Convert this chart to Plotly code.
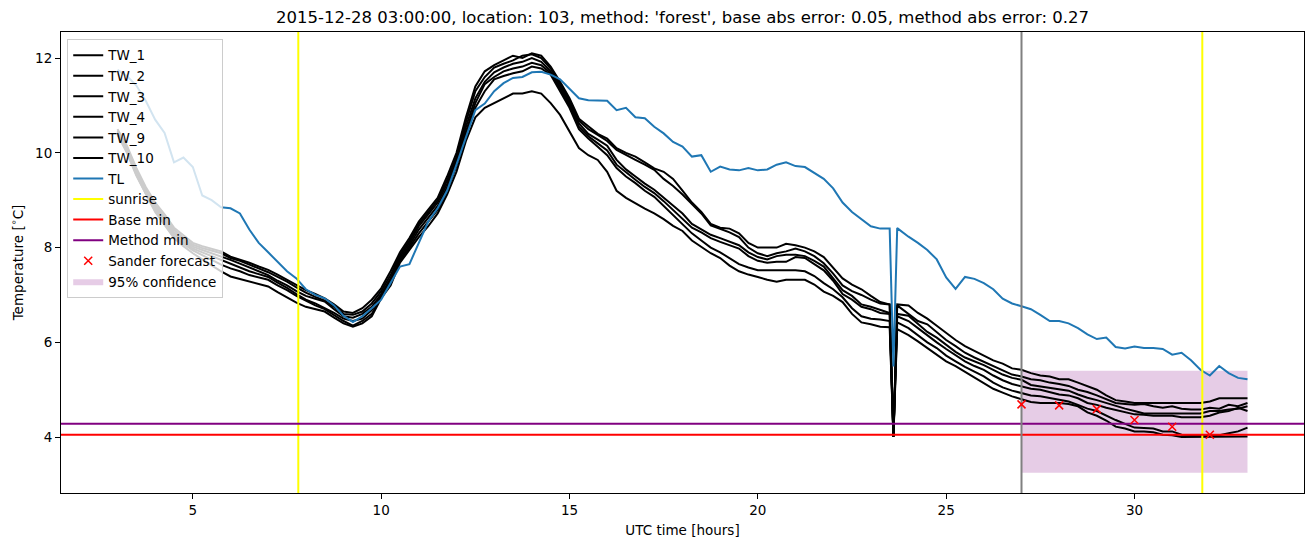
import plotly.graph_objects as go

# ---------------- data ----------------
hours = [3.0, 3.25, 3.5, 3.75, 4.0, 4.25, 4.5, 4.75, 5.0, 5.25, 5.5, 5.75,
         6.0, 6.25, 6.5, 6.75, 7.0, 7.25, 7.5, 7.75, 8.0, 8.25, 8.5, 8.75,
         9.0, 9.25, 9.5, 9.75, 10.0, 10.25, 10.5, 10.75, 11.0, 11.25, 11.5, 11.75,
         12.0, 12.25, 12.5, 12.75, 13.0, 13.25, 13.5, 13.75, 14.0, 14.25, 14.5, 14.75,
         15.0, 15.25, 15.5, 15.75, 16.0, 16.25, 16.5, 16.75, 17.0, 17.25, 17.5, 17.75,
         18.0, 18.25, 18.5, 18.75, 19.0, 19.25, 19.5, 19.75, 20.0, 20.25, 20.5, 20.75,
         21.0, 21.25, 21.5, 21.75, 22.0, 22.25, 22.5, 22.75, 23.0, 23.25, 23.5,
         23.6, 23.7,
         24.0, 24.25, 24.5, 24.75, 25.0, 25.25, 25.5, 25.75, 26.0, 26.25, 26.5, 26.75,
         27.0, 27.25, 27.5, 27.75, 28.0, 28.25, 28.5, 28.75, 29.0, 29.25, 29.5, 29.75,
         30.0, 30.25, 30.5, 30.75, 31.0, 31.25, 31.5, 31.75, 32.0, 32.25, 32.5, 32.75,
         33.0]

tw_1 = [10.5, 10.15, 9.68, 9.28, 8.95, 8.7, 8.42, 8.25, 8.1, 8.03, 7.97, 7.92,
        7.81, 7.75, 7.68, 7.6, 7.53, 7.43, 7.32, 7.2, 7.1, 7.02, 6.93, 6.8,
        6.65, 6.62, 6.72, 6.9, 7.14, 7.5, 7.9, 8.2, 8.55, 8.8, 9.05, 9.5,
        10.0, 10.75, 11.4, 11.72, 11.85, 11.95, 12.05, 12.0, 12.1, 12.05, 11.82, 11.5,
        11.15, 10.72, 10.55, 10.4, 10.3, 10.1, 10.0, 9.92, 9.8, 9.67, 9.6, 9.45,
        9.2, 8.95, 8.75, 8.5, 8.42, 8.4, 8.3, 8.1, 8.0, 8.0, 8.0, 8.08,
        8.05, 8.0, 7.92, 7.8, 7.58, 7.35, 7.22, 7.12, 6.98, 6.85, 6.8,
        4.0, 6.8,
        6.78, 6.62, 6.5, 6.35, 6.2, 6.05, 5.92, 5.82, 5.73, 5.62, 5.55, 5.45,
        5.42, 5.35, 5.3, 5.28, 5.22, 5.22, 5.15, 5.07, 5.0, 4.88, 4.78, 4.75,
        4.72, 4.72, 4.72, 4.72, 4.72, 4.72, 4.72, 4.72, 4.75, 4.82, 4.82, 4.82,
        4.82]

tw_2 = [10.47, 10.12, 9.64, 9.24, 8.9, 8.65, 8.38, 8.2, 8.06, 7.99, 7.93, 7.88,
        7.78, 7.72, 7.64, 7.56, 7.48, 7.38, 7.28, 7.16, 7.05, 6.96, 6.88, 6.75,
        6.6, 6.58, 6.65, 6.82, 7.08, 7.42, 7.85, 8.15, 8.5, 8.75, 9.0, 9.42,
        9.92, 10.65, 11.3, 11.6, 11.8, 11.88, 11.95, 12.05, 12.08, 12.0, 11.78, 11.45,
        11.1, 10.68, 10.5, 10.38, 10.25, 10.06, 9.95, 9.85, 9.75, 9.64, 9.45, 9.3,
        9.12, 8.92, 8.72, 8.47, 8.4, 8.32, 8.22, 8.0, 7.88, 7.82, 7.88, 7.92,
        7.98, 7.92, 7.82, 7.67, 7.45, 7.2, 7.08, 7.0, 6.9, 6.82, 6.8,
        4.02, 6.78,
        6.6, 6.45, 6.38, 6.22, 6.05, 5.92, 5.78, 5.68, 5.59, 5.5, 5.4, 5.32,
        5.28, 5.22, 5.2, 5.15, 5.12, 5.08, 5.0, 4.95, 4.88, 4.8, 4.72, 4.7,
        4.68, 4.7, 4.65, 4.62, 4.65, 4.6, 4.58, 4.58, 4.62, 4.6, 4.68, 4.65,
        4.72]

tw_3 = [10.45, 10.08, 9.6, 9.2, 8.86, 8.6, 8.33, 8.16, 8.02, 7.95, 7.88, 7.82,
        7.74, 7.66, 7.58, 7.5, 7.42, 7.3, 7.2, 7.08, 6.98, 6.92, 6.86, 6.7,
        6.55, 6.52, 6.6, 6.75, 7.02, 7.35, 7.8, 8.1, 8.45, 8.7, 8.95, 9.35,
        9.85, 10.55, 11.15, 11.5, 11.7, 11.8, 11.88, 11.92, 12.0, 11.92, 11.72, 11.4,
        11.05, 10.62, 10.4, 10.28, 10.15, 9.85, 9.65, 9.5, 9.35, 9.22, 9.05, 8.88,
        8.72, 8.5, 8.38, 8.27, 8.2, 8.12, 8.05, 7.9, 7.8, 7.75, 7.82, 7.85,
        7.85, 7.82, 7.72, 7.6, 7.35, 7.1, 6.98, 6.8, 6.75, 6.68, 6.62,
        4.0, 6.6,
        6.56, 6.4, 6.22, 6.1, 5.95, 5.8, 5.68, 5.6, 5.52, 5.42, 5.32, 5.25,
        5.21, 5.1, 5.07, 5.05, 5.02, 4.98, 4.9, 4.83, 4.78, 4.72, 4.65, 4.6,
        4.55, 4.5, 4.5, 4.5, 4.5, 4.5, 4.5, 4.5, 4.55, 4.55, 4.58, 4.6,
        4.65]

tw_4 = [10.42, 10.05, 9.57, 9.17, 8.82, 8.56, 8.29, 8.12, 7.98, 7.9, 7.82, 7.74,
        7.65, 7.58, 7.5, 7.44, 7.38, 7.26, 7.15, 7.02, 6.9, 6.82, 6.72, 6.62,
        6.5, 6.45, 6.5, 6.68, 6.98, 7.3, 7.75, 8.05, 8.38, 8.62, 8.88, 9.28,
        9.78, 10.45, 11.05, 11.45, 11.6, 11.72, 11.78, 11.82, 11.9, 11.85, 11.68, 11.35,
        11.0, 10.55, 10.35, 10.2, 10.05, 9.75, 9.58, 9.43, 9.28, 9.15, 8.98, 8.8,
        8.62, 8.42, 8.32, 8.2, 8.12, 8.05, 7.98, 7.82, 7.72, 7.68, 7.7, 7.7,
        7.8, 7.78, 7.65, 7.52, 7.3, 7.02, 6.9, 6.75, 6.7, 6.62, 6.6,
        4.03, 6.55,
        6.45, 6.3, 6.14, 6.0, 5.86, 5.73, 5.6, 5.5, 5.42, 5.3, 5.2, 5.12,
        5.07, 5.02, 5.0, 4.95, 4.9, 4.88, 4.82, 4.72, 4.68, 4.62, 4.57, 4.52,
        4.48, 4.47, 4.45, 4.45, 4.45, 4.42, 4.42, 4.42, 4.45, 4.52, 4.55, 4.62,
        4.55]

tw_9 = [10.4, 10.02, 9.54, 9.14, 8.78, 8.52, 8.24, 8.08, 7.94, 7.84, 7.74, 7.64,
        7.56, 7.5, 7.42, 7.37, 7.32, 7.2, 7.1, 6.98, 6.88, 6.78, 6.7, 6.58,
        6.45, 6.35, 6.45, 6.6, 6.95, 7.25, 7.72, 8.0, 8.3, 8.55, 8.8, 9.2,
        9.72, 10.38, 10.95, 11.3, 11.55, 11.62, 11.68, 11.72, 11.82, 11.78, 11.65, 11.3,
        10.95, 10.5, 10.3, 10.13, 9.95, 9.68, 9.5, 9.36, 9.2, 9.07, 8.88, 8.68,
        8.5, 8.3, 8.15, 8.0, 7.9, 7.78, 7.65, 7.58, 7.52, 7.52, 7.52, 7.52,
        7.52, 7.5, 7.4, 7.25, 7.12, 6.95, 6.72, 6.55, 6.5, 6.48, 6.45,
        4.01, 6.42,
        6.3, 6.15, 6.0, 5.88, 5.72, 5.6, 5.48, 5.38, 5.28, 5.15, 5.05, 4.98,
        4.93, 4.88, 4.86, 4.82, 4.78, 4.75, 4.68, 4.6, 4.55, 4.45, 4.36, 4.28,
        4.2, 4.19, 4.18, 4.12, 4.12, 4.05, 4.04, 4.04, 4.04, 4.04, 4.08, 4.12,
        4.2]

tw_10 = [10.38, 10.0, 9.52, 9.12, 8.75, 8.48, 8.2, 8.03, 7.88, 7.75, 7.62, 7.5,
         7.39, 7.34, 7.28, 7.23, 7.18, 7.06, 6.95, 6.84, 6.75, 6.7, 6.65, 6.52,
         6.4, 6.33, 6.4, 6.55, 6.93, 7.2, 7.68, 7.95, 8.22, 8.45, 8.72, 9.12,
         9.6, 10.25, 10.75, 10.95, 11.05, 11.15, 11.25, 11.25, 11.3, 11.25, 11.05, 10.8,
         10.45, 10.1, 9.95, 9.85, 9.6, 9.2, 9.05, 8.93, 8.82, 8.72, 8.6, 8.46,
         8.35, 8.15, 8.02, 7.88, 7.78, 7.62, 7.5, 7.43, 7.38, 7.32, 7.28, 7.32,
         7.32, 7.32, 7.22, 7.07, 6.98, 6.85, 6.6, 6.42, 6.38, 6.33, 6.32,
         4.0, 6.28,
         6.15, 6.02, 5.88, 5.75, 5.6, 5.5, 5.38, 5.25, 5.14, 5.02, 4.94, 4.86,
         4.8, 4.74, 4.72, 4.72, 4.72, 4.7, 4.65, 4.52, 4.45, 4.35, 4.22, 4.18,
         4.12, 4.12, 4.1, 4.05, 4.04, 4.0, 4.0, 4.0, 4.0, 4.0, 4.0, 4.0,
         4.01]

tl = [11.75, 11.62, 11.42, 11.1, 10.7, 10.42, 9.8, 9.9, 9.7, 9.1, 9.0, 8.85,
      8.83, 8.72, 8.38, 8.1, 7.9, 7.7, 7.5, 7.35, 7.12, 7.0, 6.93, 6.78,
      6.56, 6.43, 6.55, 6.72, 6.9, 7.25, 7.6, 7.65, 8.1, 8.55, 8.83, 9.2,
      9.75, 10.35, 10.9, 11.04, 11.3, 11.47, 11.58, 11.6, 11.7, 11.71, 11.65, 11.55,
      11.35, 11.15, 11.11, 11.11, 11.1, 10.9, 10.95, 10.75, 10.73, 10.55, 10.41, 10.23,
      10.13, 9.92, 9.95, 9.6, 9.71, 9.65, 9.63, 9.68, 9.63, 9.65, 9.75, 9.8,
      9.72, 9.7, 9.57, 9.45, 9.25, 8.95, 8.75, 8.6, 8.45, 8.4, 8.4,
      5.49, 8.41,
      8.23, 8.1, 7.95, 7.75, 7.37, 7.13, 7.38, 7.34, 7.25, 7.12, 6.92, 6.82,
      6.76, 6.7, 6.58, 6.45, 6.45, 6.4, 6.3, 6.17, 6.07, 6.1, 5.9, 5.87,
      5.91, 5.88, 5.88, 5.86, 5.74, 5.78, 5.62, 5.42, 5.3, 5.5, 5.35, 5.25,
      5.22]

tw_names = ["TW_1", "TW_2", "TW_3", "TW_4", "TW_9", "TW_10"]
tw_series = [tw_1, tw_2, tw_3, tw_4, tw_9, tw_10]

sunrise_hours = [7.8, 31.8]
forecast_start = 27.0
base_min = 4.05
method_min = 4.28

sander_hours = [27, 28, 29, 30, 31, 32]
sander_values = [4.69, 4.67, 4.59, 4.36, 4.22, 4.05]

conf_hours = [27.0, 33.0]
conf_low = 3.25
conf_high = 5.4

title_text = ("2015-12-28 03:00:00, location: 103, method: 'forest', "
              "base abs error: 0.05, method abs error: 0.27")

x_range = [1.5, 34.5]
y_range = [2.82, 12.55]

for s in tw_series + [tl]:
    if len(s) != len(hours):
        raise ValueError("length mismatch %d vs %d" % (len(s), len(hours)))

# ---------------- figure ----------------
FONT = "DejaVu Sans"
fig = go.Figure()

# confidence band (drawn first so it sits under everything, legend last)
fig.add_trace(go.Scatter(
    x=[conf_hours[0], conf_hours[1], conf_hours[1], conf_hours[0], conf_hours[0]],
    y=[conf_low, conf_low, conf_high, conf_high, conf_low],
    fill="toself", fillcolor="rgba(128,0,128,0.2)", mode="lines",
    line=dict(width=0, color="rgba(128,0,128,0.2)"),
    name="95% confidence", legendrank=2000, hoverinfo="skip"))

for name, vals in zip(tw_names, tw_series):
    fig.add_trace(go.Scatter(x=hours, y=vals, mode="lines", name=name,
                             line=dict(color="black", width=2)))

fig.add_trace(go.Scatter(x=hours, y=tl, mode="lines", name="TL",
                         line=dict(color="#1f77b4", width=2)))

sx, sy = [], []
for h in sunrise_hours:
    sx += [h, h, None]
    sy += [y_range[0], y_range[1], None]
fig.add_trace(go.Scatter(x=sx, y=sy, mode="lines", name="sunrise",
                         line=dict(color="#ffff00", width=2)))

fig.add_trace(go.Scatter(x=x_range, y=[base_min, base_min], mode="lines",
                         name="Base min", line=dict(color="#ff0000", width=2)))
fig.add_trace(go.Scatter(x=x_range, y=[method_min, method_min], mode="lines",
                         name="Method min", line=dict(color="#800080", width=2)))

fig.add_trace(go.Scatter(x=[forecast_start, forecast_start], y=y_range, mode="lines",
                         showlegend=False, line=dict(color="#808080", width=2)))

fig.add_trace(go.Scatter(x=sander_hours, y=sander_values, mode="markers",
                         name="Sander forecast",
                         marker=dict(symbol="x-thin", size=8, color="red",
                                     line=dict(width=1.5, color="red"))))

fig.update_layout(
    width=1310, height=547,
    margin=dict(l=61, r=6, t=32, b=54),
    paper_bgcolor="white", plot_bgcolor="white",
    font=dict(family=FONT, size=14, color="black"),
    title=dict(text=title_text, x=0.5, xref="paper", xanchor="center",
               y=1 - 17 / 547, yref="container", yanchor="middle",
               font=dict(family=FONT, size=16.5, color="black")),
    showlegend=True,
    legend=dict(x=0.005, y=0.985, xanchor="left", yanchor="top",
                bgcolor="rgba(255,255,255,0.8)", bordercolor="#cccccc",
                borderwidth=1, font=dict(family=FONT, size=13.5),
                tracegroupgap=0, itemwidth=30),
)

fig.update_xaxes(range=x_range, tickvals=[5, 10, 15, 20, 25, 30],
                 showline=True, linecolor="black", linewidth=1, mirror=True,
                 ticks="outside", ticklen=5, tickwidth=1, tickcolor="black",
                 showgrid=False, zeroline=False, automargin=False,
                 tickfont=dict(family=FONT, size=13.5),
                 title=dict(text="UTC time [hours]", standoff=8,
                            font=dict(family=FONT, size=13.5)))
fig.update_yaxes(range=y_range, tickvals=[4, 6, 8, 10, 12],
                 showline=True, linecolor="black", linewidth=1, mirror=True,
                 ticks="outside", ticklen=5, tickwidth=1, tickcolor="black",
                 showgrid=False, zeroline=False, automargin=False,
                 tickfont=dict(family=FONT, size=13.5),
                 title=dict(text="Temperature [<sup>∘</sup>C]", standoff=8,
                            font=dict(family=FONT, size=13.5)))

fig.write_html("out.html",
               config={"displayModeBar": False},
               post_script="document.body.style.margin='0px';"
                           "document.body.style.overflow='hidden';")
